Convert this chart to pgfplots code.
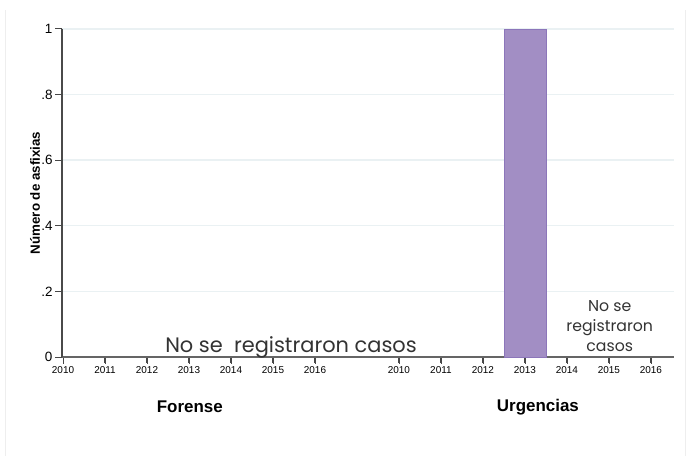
\documentclass[border=0pt]{standalone}
\usepackage{fontspec}
\setmainfont{Liberation Sans}
\newfontfamily\mfont{Poppins}
\usepackage{pgfplots}
\pgfplotsset{compat=1.18}
\definecolor{barfill}{HTML}{A28EC4}
\definecolor{baredge}{HTML}{8C76BA}
\definecolor{gridc}{HTML}{EAF1F3}
\definecolor{axisc}{HTML}{4A4A4A}
\definecolor{framec}{HTML}{EEEEEE}
\begin{document}
\begin{tikzpicture}
\begin{axis}[
  at={(0,0)}, anchor=south west,
  scale only axis, width=612bp, height=328bp,
  xmin=-0.024, xmax=14.55, ymin=0, ymax=1,
  axis x line*=bottom, axis y line*=left,
  tick align=outside,
  major tick length=6bp,
  every tick/.append style={black!72, line width=1bp},
  x axis line style={color=axisc!85, line width=1.6bp, -},
  y axis line style={color=axisc, line width=1.2bp, -},
  ymajorgrids, grid style={color=gridc, line width=1.4bp},
  xtick={0,1,2,3,4,5,6,8,9,10,11,12,13,14},
  xticklabels={2010,2011,2012,2013,2014,2015,2016,2010,2011,2012,2013,2014,2015,2016},
  ytick={0,0.2,0.4,0.6,0.8,1},
  yticklabels={0,.2,.4,.6,.8,1},
  x tick label style={font=\fontsize{10}{11}\selectfont},
  y tick label style={font=\fontsize{13.5}{14}\selectfont},
  clip=false,
  /pgf/number format/assume math mode=true,
]
% Urgencias 2013: one case
\addplot[ybar, bar width=1, bar shift=0pt, fill=barfill, draw=baredge, line width=0.8bp]
  coordinates {(11,1)};

\node[font=\mfont\fontsize{21}{22}\selectfont, color=black!80, anchor=base]
  at (axis cs:5.43,0.015) {No se~ registraron casos};
\node[font=\mfont\fontsize{15.8}{20}\selectfont, align=center, color=black!80]
  at (axis cs:13.02,0.095) {No se\\registraron\\casos};

\node[font=\bfseries\fontsize{17}{18}\selectfont] at (axis cs:3.02,-0.152) {Forense};
\node[font=\bfseries\fontsize{17}{18}\selectfont] at (axis cs:11.31,-0.152) {Urgencias};
\node[font=\bfseries\fontsize{13.4}{14}\selectfont, rotate=90]
  at (axis cs:-0.667,0.5) {Número de asfixias};
\end{axis}
% tick marks (axis box: 612bp x 328bp, 42bp per year)
\foreach \i in {0,1,2,3,4,5,6,8,9,10,11,12,13,14}
  \draw[black!72, line width=1bp] ({(1+42*\i)*1bp},-0.8bp) -- ++(0,-6bp);
\foreach \j in {0,1,2,3,4,5}
  \draw[black!72, line width=1bp] (-0.6bp,{65.6*\j*1bp}) -- ++(-6bp,0);
\draw[framec, line width=1bp] (-56.5bp,347bp) -- (-56.5bp,-99bp);
\draw[framec, line width=1bp] (623.5bp,347bp) -- (623.5bp,-99bp);
\pgfresetboundingbox
\path (-62bp,-99bp) rectangle (628bp,357bp);
\end{tikzpicture}
\end{document}
